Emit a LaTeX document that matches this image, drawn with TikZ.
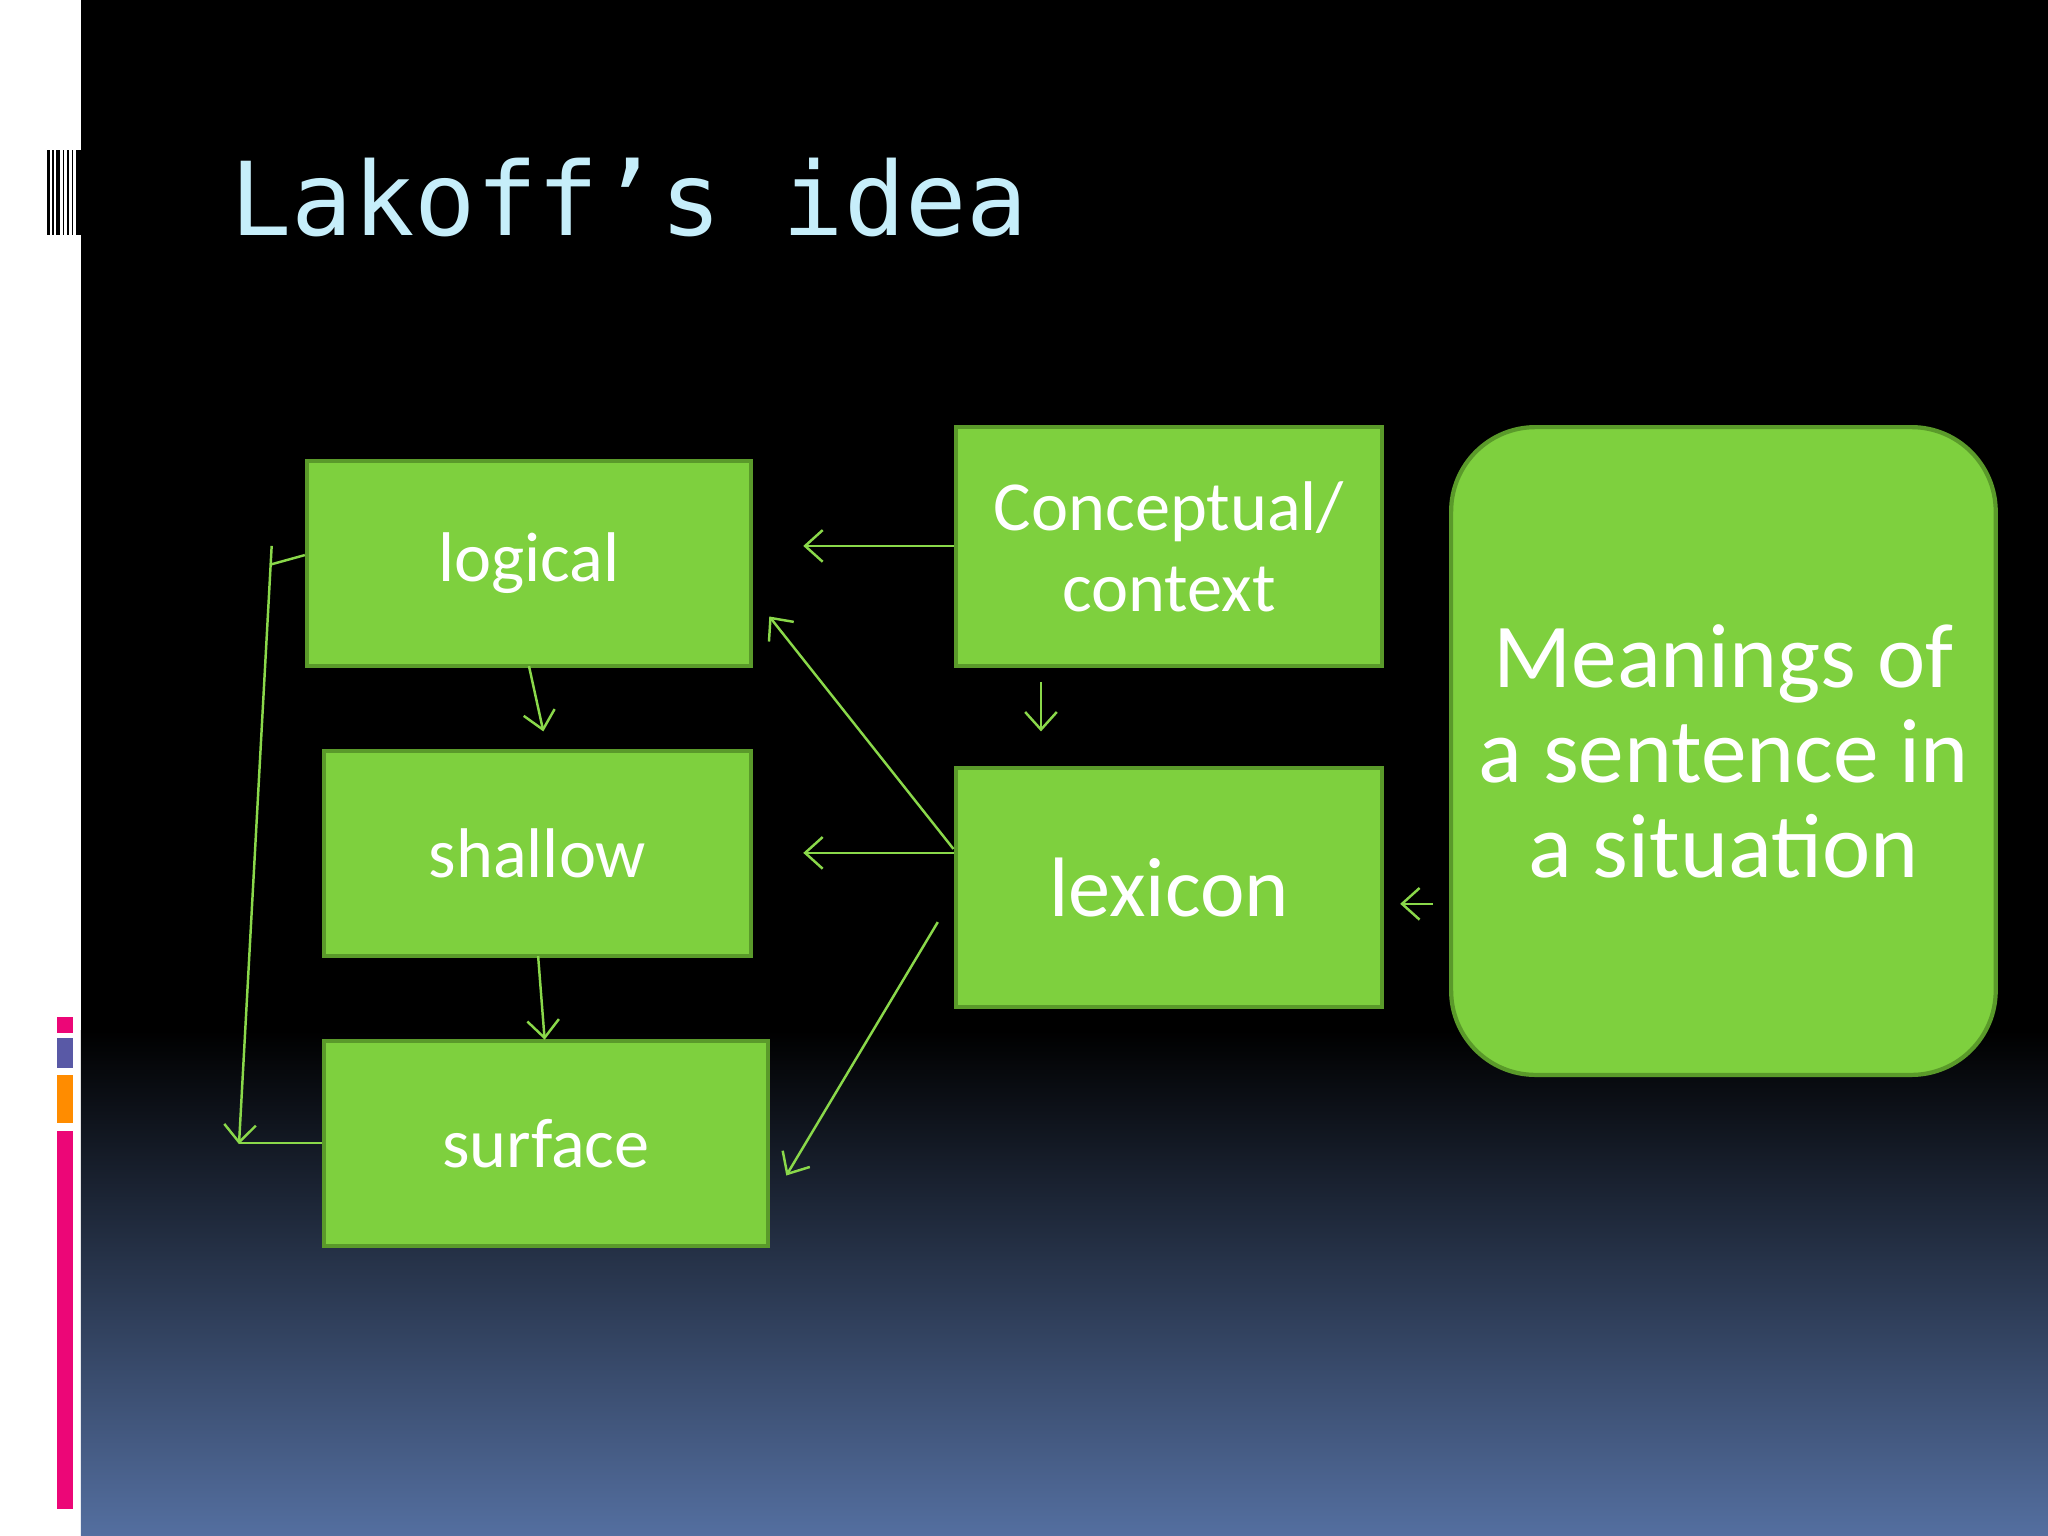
\documentclass[tikz,border=0pt]{standalone}
\usepackage{fontspec}
\setmainfont{Carlito}
\newfontfamily\monot{DejaVu Sans Mono}
\usetikzlibrary{arrows.meta}
\definecolor{gbox}{HTML}{7ED03E}
\definecolor{gline}{HTML}{5A9A2A}
\definecolor{garr}{HTML}{8AD84A}
\definecolor{ttl}{HTML}{C6EEFA}
\definecolor{botblue}{HTML}{546FA0}
\begin{document}
\begin{tikzpicture}[x=0.013061cm,y=-0.013061cm,
  box/.style={draw=gline,line width=1.2pt,fill=gbox,text=white,align=center,inner sep=0pt},
  con/.style={garr,line width=0.7pt,-{Straight Barb[length=5pt,width=9pt]}},
  ln/.style={garr,line width=0.7pt}]
\useasboundingbox (0,0) rectangle (1568,1176);
\fill[white] (0,0) rectangle (1568,1176);
\fill[black] (62,0) rectangle (1568,790);
\shade[top color=black,bottom color=botblue] (62,789) rectangle (1568,1176);
% left decorations
\foreach \x/\w in {36/2,40/1,43/3,48/1,51/2,55/1,58/4}{\fill[black] (\x,115) rectangle (\x+\w,180);}
\fill[magenta!80!red] (44,779) rectangle (56,791);
\fill[gray!70!blue] (44,795) rectangle (56,818);
\fill[orange!90!yellow] (44,823) rectangle (56,860);
\fill[magenta!80!red] (44,866) rectangle (56,1155);
\node[anchor=base west,text=ttl,font=\monot\fontsize{29}{32}\selectfont,inner sep=0pt] (title) at (176,180) {Lakoff’s idea};
\def\fs{\fontsize{20}{23}\selectfont}
\node[box,minimum width=4.441cm,minimum height=2.051cm,font=\fs] (logical) at (405,431.5) {logical};
\node[box,minimum width=4.271cm,minimum height=2.051cm,font=\fs] (shallow) at (411.5,653.5) {shallow};
\node[box,minimum width=4.441cm,minimum height=2.051cm,font=\fs] (surface) at (418,875.5) {surface};
\node[box,minimum width=4.258cm,minimum height=2.390cm,font=\fs] (concept) at (895,418.5) {Conceptual/\\context};
\node[box,minimum width=4.258cm,minimum height=2.390cm,font=\fontsize{24}{28}\selectfont] (lexicon) at (895,679.5) {lexicon};
\node[box,rounded corners=24pt,minimum width=5.446cm,minimum height=6.478cm,font=\fontsize{26}{27}\selectfont] (mean) at (1319.5,575) {Meanings of\\a sentence in\\a situation};
% connectors
\coordinate (a1) at (615,418); \draw[con] (concept.west |- a1) -- (a1);
\coordinate (a2) at (615,653); \draw[con] (lexicon.west |- a2) -- (a2);
\coordinate (a3) at (589,472); \draw[con] (730,650) -- (a3);
\coordinate (a4s) at (718,706); \coordinate (a4) at (602,900); \draw[con] (a4s) -- (a4);
\coordinate (a5s) at (797,522); \coordinate (a5) at (797,560); \draw[con] (a5s) -- (a5);
\coordinate (a6) at (416,560); \draw[con] (405,510) -- (a6);
\coordinate (a7) at (417,796); \draw[con] (412,732) -- (a7);
\coordinate (a8s) at (1097,692); \coordinate (a8) at (1072,692); \draw[con] (a8s) -- (a8);
\coordinate (l1) at (208,432); \coordinate (l0) at (208,418); \coordinate (l2) at (183,876);
\draw[ln] (logical.west |- 0,425) -- (l1);
\draw[con] (l0) -- (l2);
\draw[ln] (surface.west |- 0,875) -- (183,875);
\end{tikzpicture}
\end{document}
